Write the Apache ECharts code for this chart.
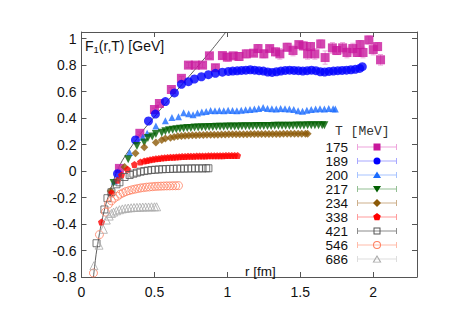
<!DOCTYPE html>
<html><head><meta charset="utf-8">
<script src="https://cdn.jsdelivr.net/npm/echarts@6/dist/echarts.min.js"></script>
<style>html,body{margin:0;padding:0;background:#fff}#c{width:463px;height:327px}</style>
</head><body><div id="c"></div>
<script>
// ---- data: [r (fm), F1 (GeV)] ----
const temps = ['175','189','200','217','234','338','421','546','686'];
const xTicks = [0, 0.5, 1, 1.5, 2];
const yTicks = [-0.8, -0.6, -0.4, -0.2, 0, 0.2, 0.4, 0.6, 0.8, 1];

const T175 = [[0.26,0.02],[0.40,0.285],[0.50,0.465],[0.534,0.51],[0.616,0.616],[0.685,0.70],[0.733,0.80],[0.78,0.80],[0.83,0.80],[0.877,0.87],[0.918,0.78],[0.966,0.872],[1.0,0.86],[1.04,0.87],[1.08,0.865],[1.13,0.885],[1.18,0.89],[1.21,0.925],[1.25,0.885],[1.29,0.925],[1.33,0.90],[1.36,0.885],[1.41,0.935],[1.45,0.91],[1.49,0.955],[1.52,0.945],[1.55,0.885],[1.57,0.94],[1.60,0.885],[1.64,0.96],[1.67,0.857],[1.72,0.93],[1.75,0.91],[1.79,0.93],[1.82,0.895],[1.86,0.925],[1.89,0.895],[1.91,0.955],[1.93,0.895],[1.97,0.99],[2.0,0.917],[2.03,0.94],[2.05,0.84]];
const err175 = [0.01,0.01,0.01,0.01,0.015,0.015,0.02,0.02,0.02,0.02,0.025,0.025,0.03,0.02,0.03,0.03,0.02,0.03,0.03,0.02,0.03,0.04,0.03,0.04,0.02,0.03,0.04,0.03,0.04,0.03,0.05,0.04,0.03,0.04,0.04,0.04,0.03,0.03,0.04,0.03,0.04,0.03,0.04];

const T189 = [[0.247,-0.02],[0.37,0.235],[0.459,0.378],[0.507,0.43],[0.575,0.525],[0.637,0.59],[0.685,0.655],[0.733,0.675],[0.774,0.695],[0.822,0.712],[0.87,0.728],[0.918,0.738],[0.966,0.747],[1.007,0.752],[1.037,0.755],[1.067,0.757],[1.097,0.76],[1.127,0.762],[1.157,0.765],[1.187,0.762],[1.217,0.758],[1.247,0.755],[1.277,0.748],[1.307,0.745],[1.337,0.75],[1.367,0.755],[1.397,0.76],[1.427,0.762],[1.457,0.76],[1.487,0.758],[1.517,0.755],[1.547,0.758],[1.577,0.762],[1.607,0.758],[1.637,0.75],[1.667,0.748],[1.697,0.752],[1.727,0.755],[1.757,0.758],[1.787,0.76],[1.817,0.762],[1.847,0.765],[1.877,0.768],[1.907,0.775],[1.925,0.788]];

const T200 = [[0.226,-0.075],[0.33,0.14],[0.42,0.255],[0.45,0.285],[0.51,0.34],[0.575,0.38],[0.62,0.405],[0.665,0.41],[0.70,0.44],[0.735,0.432],[0.765,0.425],[0.795,0.438],[0.825,0.445],[0.855,0.45],[0.885,0.458],[0.915,0.455],[0.945,0.458],[0.975,0.455],[1.005,0.46],[1.035,0.458],[1.065,0.455],[1.095,0.46],[1.125,0.462],[1.155,0.465],[1.185,0.468],[1.215,0.472],[1.245,0.48],[1.275,0.472],[1.305,0.47],[1.335,0.468],[1.365,0.472],[1.395,0.47],[1.425,0.468],[1.455,0.465],[1.485,0.455],[1.515,0.452],[1.545,0.46],[1.575,0.465],[1.605,0.468],[1.635,0.47],[1.665,0.468],[1.695,0.472],[1.725,0.47],[1.74,0.468]];

const T217 = [[0.22,-0.09],[0.32,0.09],[0.38,0.19],[0.43,0.215],[0.455,0.25],[0.485,0.26],[0.51,0.28],[0.55,0.29],[0.575,0.3],[0.60,0.308],[0.625,0.312],[0.65,0.316],[0.675,0.32],[0.70,0.322],[0.725,0.325],[0.75,0.326],[0.775,0.328],[0.80,0.329],[0.825,0.33],[0.85,0.331],[0.875,0.332],[0.90,0.333],[0.925,0.334],[0.95,0.334],[0.975,0.335],[1.0,0.336],[1.025,0.336],[1.05,0.337],[1.075,0.337],[1.1,0.338],[1.125,0.338],[1.15,0.339],[1.175,0.339],[1.2,0.34],[1.225,0.34],[1.25,0.34],[1.275,0.341],[1.3,0.341],[1.325,0.342],[1.35,0.342],[1.375,0.342],[1.4,0.343],[1.425,0.343],[1.45,0.343],[1.475,0.344],[1.5,0.344],[1.525,0.344],[1.55,0.345],[1.575,0.345],[1.6,0.345],[1.625,0.345],[1.65,0.346],[1.665,0.346]];

const T234 = [[0.2,-0.15],[0.295,0.03],[0.37,0.135],[0.43,0.18],[0.51,0.215],[0.55,0.235],[0.575,0.245],[0.61,0.252],[0.635,0.258],[0.66,0.262],[0.685,0.265],[0.71,0.267],[0.735,0.269],[0.76,0.27],[0.785,0.271],[0.81,0.272],[0.835,0.273],[0.86,0.274],[0.885,0.274],[0.91,0.275],[0.935,0.275],[0.96,0.276],[0.985,0.276],[1.01,0.277],[1.035,0.277],[1.06,0.277],[1.085,0.278],[1.11,0.278],[1.135,0.278],[1.16,0.279],[1.185,0.279],[1.21,0.279],[1.235,0.279],[1.26,0.28],[1.285,0.28],[1.31,0.28],[1.335,0.28],[1.36,0.28],[1.385,0.281],[1.41,0.281],[1.435,0.281],[1.46,0.281],[1.485,0.281],[1.51,0.282],[1.535,0.282],[1.55,0.282]];

const T338 = [[0.137,-0.385],[0.205,-0.165],[0.247,-0.07],[0.274,-0.03],[0.315,0.013],[0.363,0.05],[0.404,0.068],[0.43,0.075],[0.45,0.08],[0.47,0.085],[0.49,0.089],[0.51,0.092],[0.53,0.095],[0.55,0.098],[0.57,0.1],[0.59,0.102],[0.61,0.104],[0.63,0.105],[0.65,0.107],[0.67,0.108],[0.69,0.109],[0.71,0.11],[0.73,0.111],[0.75,0.112],[0.77,0.112],[0.79,0.113],[0.81,0.113],[0.83,0.114],[0.85,0.114],[0.87,0.115],[0.89,0.115],[0.91,0.115],[0.93,0.116],[0.95,0.116],[0.97,0.116],[0.99,0.117],[1.01,0.117],[1.03,0.117],[1.05,0.117],[1.07,0.117]];

const T421 = [[0.103,-0.545],[0.157,-0.29],[0.178,-0.205],[0.205,-0.16],[0.24,-0.1],[0.26,-0.085],[0.295,-0.045],[0.33,-0.03],[0.356,-0.02],[0.38,-0.012],[0.405,-0.005],[0.43,0.0],[0.455,0.004],[0.48,0.008],[0.505,0.01],[0.53,0.012],[0.555,0.014],[0.58,0.015],[0.605,0.016],[0.63,0.017],[0.655,0.018],[0.68,0.018],[0.705,0.019],[0.73,0.019],[0.755,0.02],[0.78,0.02],[0.805,0.02],[0.83,0.02],[0.855,0.021],[0.87,0.021]];

const T546 = [[0.082,-0.77],[0.123,-0.48],[0.164,-0.31],[0.185,-0.25],[0.205,-0.225],[0.225,-0.205],[0.247,-0.19],[0.265,-0.175],[0.285,-0.165],[0.305,-0.155],[0.325,-0.148],[0.345,-0.142],[0.365,-0.137],[0.385,-0.132],[0.405,-0.128],[0.425,-0.125],[0.445,-0.122],[0.465,-0.12],[0.485,-0.118],[0.505,-0.116],[0.525,-0.115],[0.545,-0.114],[0.565,-0.113],[0.585,-0.112],[0.605,-0.112],[0.625,-0.111],[0.645,-0.111],[0.665,-0.11]];

const T686 = [[0.085,-0.715],[0.12,-0.56],[0.15,-0.44],[0.17,-0.37],[0.19,-0.34],[0.205,-0.32],[0.22,-0.31],[0.24,-0.3],[0.26,-0.292],[0.28,-0.286],[0.3,-0.282],[0.32,-0.279],[0.34,-0.277],[0.36,-0.275],[0.38,-0.274],[0.4,-0.273],[0.42,-0.272],[0.44,-0.271],[0.46,-0.271],[0.48,-0.27],[0.5,-0.27],[0.515,-0.27]];

// zero-temperature reference curve
const T0curve = [[0.082,-0.8],[0.09,-0.72],[0.10,-0.63],[0.11,-0.56],[0.125,-0.46],[0.145,-0.35],[0.17,-0.24],[0.205,-0.12],[0.24,-0.01],[0.28,0.08],[0.33,0.165],[0.41,0.29],[0.5,0.41],[0.575,0.51],[0.678,0.64],[0.8,0.795],[0.9,0.925],[0.99,1.05]];

// ---- styles ----
const markColors = ['#c8189c','#0000ff','#1a6cff','#005f00','#8c5a08','#ff0000','#555555','#ff7f60','#aaaaaa'];
const barColors  = ['#eea4dc','#a8a8ff','#a8c4ff','#94bf94','#cdb08c','#ff9c9c','#8c8c8c','#ffbcaa','#dddddd'];
const seriesData = [T175,T189,T200,T217,T234,T338,T421,T546,T686];
const PENT = 'path://M0,-1L0.951,-0.309L0.588,0.809L-0.588,0.809L-0.951,-0.309Z';
const symbols = [
  {symbol:'rect', size:9}, {symbol:'circle', size:9}, {symbol:'triangle', size:7},
  {symbol:'triangle', size:8, rotate:180}, {symbol:'diamond', size:8}, {symbol:PENT, size:7},
  {symbol:'rect', size:7, hollow:true}, {symbol:'circle', size:8, hollow:true}, {symbol:'triangle', size:8, hollow:true}
];
const EDGE = 'M0,0L0.01,0L0,0.01Z M44,14L43.99,14L44,13.99Z ';
const errIcon = 'path://' + EDGE + 'M4,6.5H44V7.5H4Z M4,4H5V10H4Z M43,4H44V10H43Z';
const markIcons = [
  EDGE + 'M20.5,3.5H27.5V10.5H20.5Z',
  EDGE + 'M20.5,7A3.5,3.5,0,1,1,27.5,7A3.5,3.5,0,1,1,20.5,7Z',
  EDGE + 'M24,3.5L28,10L20,10Z',
  EDGE + 'M20,4L28,4L24,10.5Z',
  EDGE + 'M24,3L28,7L24,11L20,7Z',
  EDGE + 'M24,3L27.8,5.8L26.4,10.2L21.6,10.2L20.2,5.8Z',
  EDGE + 'M20.5,3.5H27.5V10.5H20.5Z M21.5,4.5V9.5H26.5V4.5Z',
  EDGE + 'M20,7A4,4,0,1,1,28,7A4,4,0,1,1,20,7Z M21,7A3,3,0,1,0,27,7A3,3,0,1,0,21,7Z',
  EDGE + 'M24,3L28.5,10.5L19.5,10.5Z M24,5L21.3,9.7L26.7,9.7Z'
].map(p => 'path://' + p);

const FONT = 'Liberation Sans';

const series = [];
series.push({
  type:'line', name:'T=0', data:T0curve, showSymbol:false, smooth:0.3, silent:true,
  lineStyle:{color:'#333', width:0.8}, z:1
});
series.push({
  type:'custom', name:'175err', silent:true, z:2,
  data: T175.map((d,i) => [d[0], d[1]-err175[i], d[1]+err175[i]]),
  renderItem: function(params, api){
    const x = api.value(0);
    const lo = api.coord([x, api.value(1)]);
    const hi = api.coord([x, api.value(2)]);
    const c = 2.5, st = {stroke: barColors[0], lineWidth: 1};
    return {type:'group', children:[
      {type:'line', shape:{x1:lo[0],y1:lo[1],x2:hi[0],y2:hi[1]}, style:st},
      {type:'line', shape:{x1:lo[0]-c,y1:lo[1],x2:lo[0]+c,y2:lo[1]}, style:st},
      {type:'line', shape:{x1:hi[0]-c,y1:hi[1],x2:hi[0]+c,y2:hi[1]}, style:st}
    ]};
  }
});
temps.forEach((t,i) => {
  const s = symbols[i];
  series.push({
    type:'scatter', name:t, data:seriesData[i], symbol:s.symbol, symbolSize:s.size,
    symbolRotate: s.rotate || 0, z: 3 + i, silent:true,
    itemStyle: s.hollow ? {color:'rgba(0,0,0,0)', borderColor:markColors[i], borderWidth:1}
                        : {color:markColors[i], borderWidth:0}
  });
});

const legendCommon = {
  orient:'vertical', right:66, top:140, align:'right', itemWidth:44, itemHeight:14,
  itemGap:0, padding:0, selectedMode:false
};

const option = {
  animation:false,
  textStyle:{fontFamily:FONT},
  grid:{left:81.5, right:46, top:32, bottom:50, outerBoundsMode:'none'},
  title:[
    {text:'{a|F}{s|1}{a|(r,T) [GeV]}', left:85, top:37, padding:0,
     textStyle:{fontWeight:'normal', rich:{
       a:{fontSize:14, color:'#111', fontFamily:FONT, fontWeight:'normal'},
       s:{fontSize:9.5, color:'#111', fontFamily:FONT, fontWeight:'normal', verticalAlign:'bottom', padding:[7,0,0,0]}}}},
    {text:'r [fm]', left:245, top:264, padding:0, textStyle:{fontSize:13.5, fontWeight:'normal', color:'#111', fontFamily:FONT}},
    {text:'T [MeV]', left:335, top:125, padding:0, textStyle:{fontSize:13, fontWeight:'normal', color:'#333', fontFamily:'Liberation Mono'}}
  ],
  legend:[
    Object.assign({}, legendCommon, {
      textStyle:{fontSize:13.5, color:'#111', fontFamily:FONT, lineHeight:14},
      data: temps.map((t,i) => ({name:t, icon:errIcon, itemStyle:{color:barColors[i], borderWidth:0, opacity:1}}))
    }),
    Object.assign({}, legendCommon, {
      formatter: function(){ return ''; },
      textStyle:{fontSize:13, lineHeight:14},
      data: temps.map((t,i) => ({name:t, icon:markIcons[i], itemStyle:{color:markColors[i], borderWidth:0, opacity:1}}))
    })
  ],
  xAxis:[
    {type:'value', min:0, max:2.3, interval:0.5, position:'bottom',
     axisLine:{show:true, onZero:false, lineStyle:{color:'#555', width:1}},
     axisTick:{show:true, inside:true, length:5, lineStyle:{color:'#555'}},
     axisLabel:{fontSize:14, color:'#111', margin:8, fontFamily:FONT, customValues: xTicks},
     splitLine:{show:false}},
    {type:'value', min:0, max:2.3, interval:0.5, position:'top',
     axisLine:{show:true, onZero:false, lineStyle:{color:'#555', width:1}},
     axisTick:{show:true, inside:true, length:5, lineStyle:{color:'#555'}},
     axisLabel:{show:false}, splitLine:{show:false}}
  ],
  yAxis:[
    {type:'value', min:-0.8, max:1.05, interval:0.2, position:'left',
     axisLine:{show:true, onZero:false, lineStyle:{color:'#555', width:1}},
     axisTick:{show:true, inside:true, length:5, lineStyle:{color:'#555'}},
     axisLabel:{fontSize:14, color:'#111', margin:5, fontFamily:FONT,
       customValues: yTicks, formatter: v => String(Math.round(v*10)/10)},
     splitLine:{show:false}},
    {type:'value', min:-0.8, max:1.05, interval:0.2, position:'right',
     axisLine:{show:true, onZero:false, lineStyle:{color:'#555', width:1}},
     axisTick:{show:true, inside:true, length:5, lineStyle:{color:'#555'}},
     axisLabel:{show:false}, splitLine:{show:false}}
  ],
  series: series
};

const chart = echarts.init(document.getElementById('c'), null, {renderer:'svg'});
chart.setOption(option);
</script>
</body></html>
